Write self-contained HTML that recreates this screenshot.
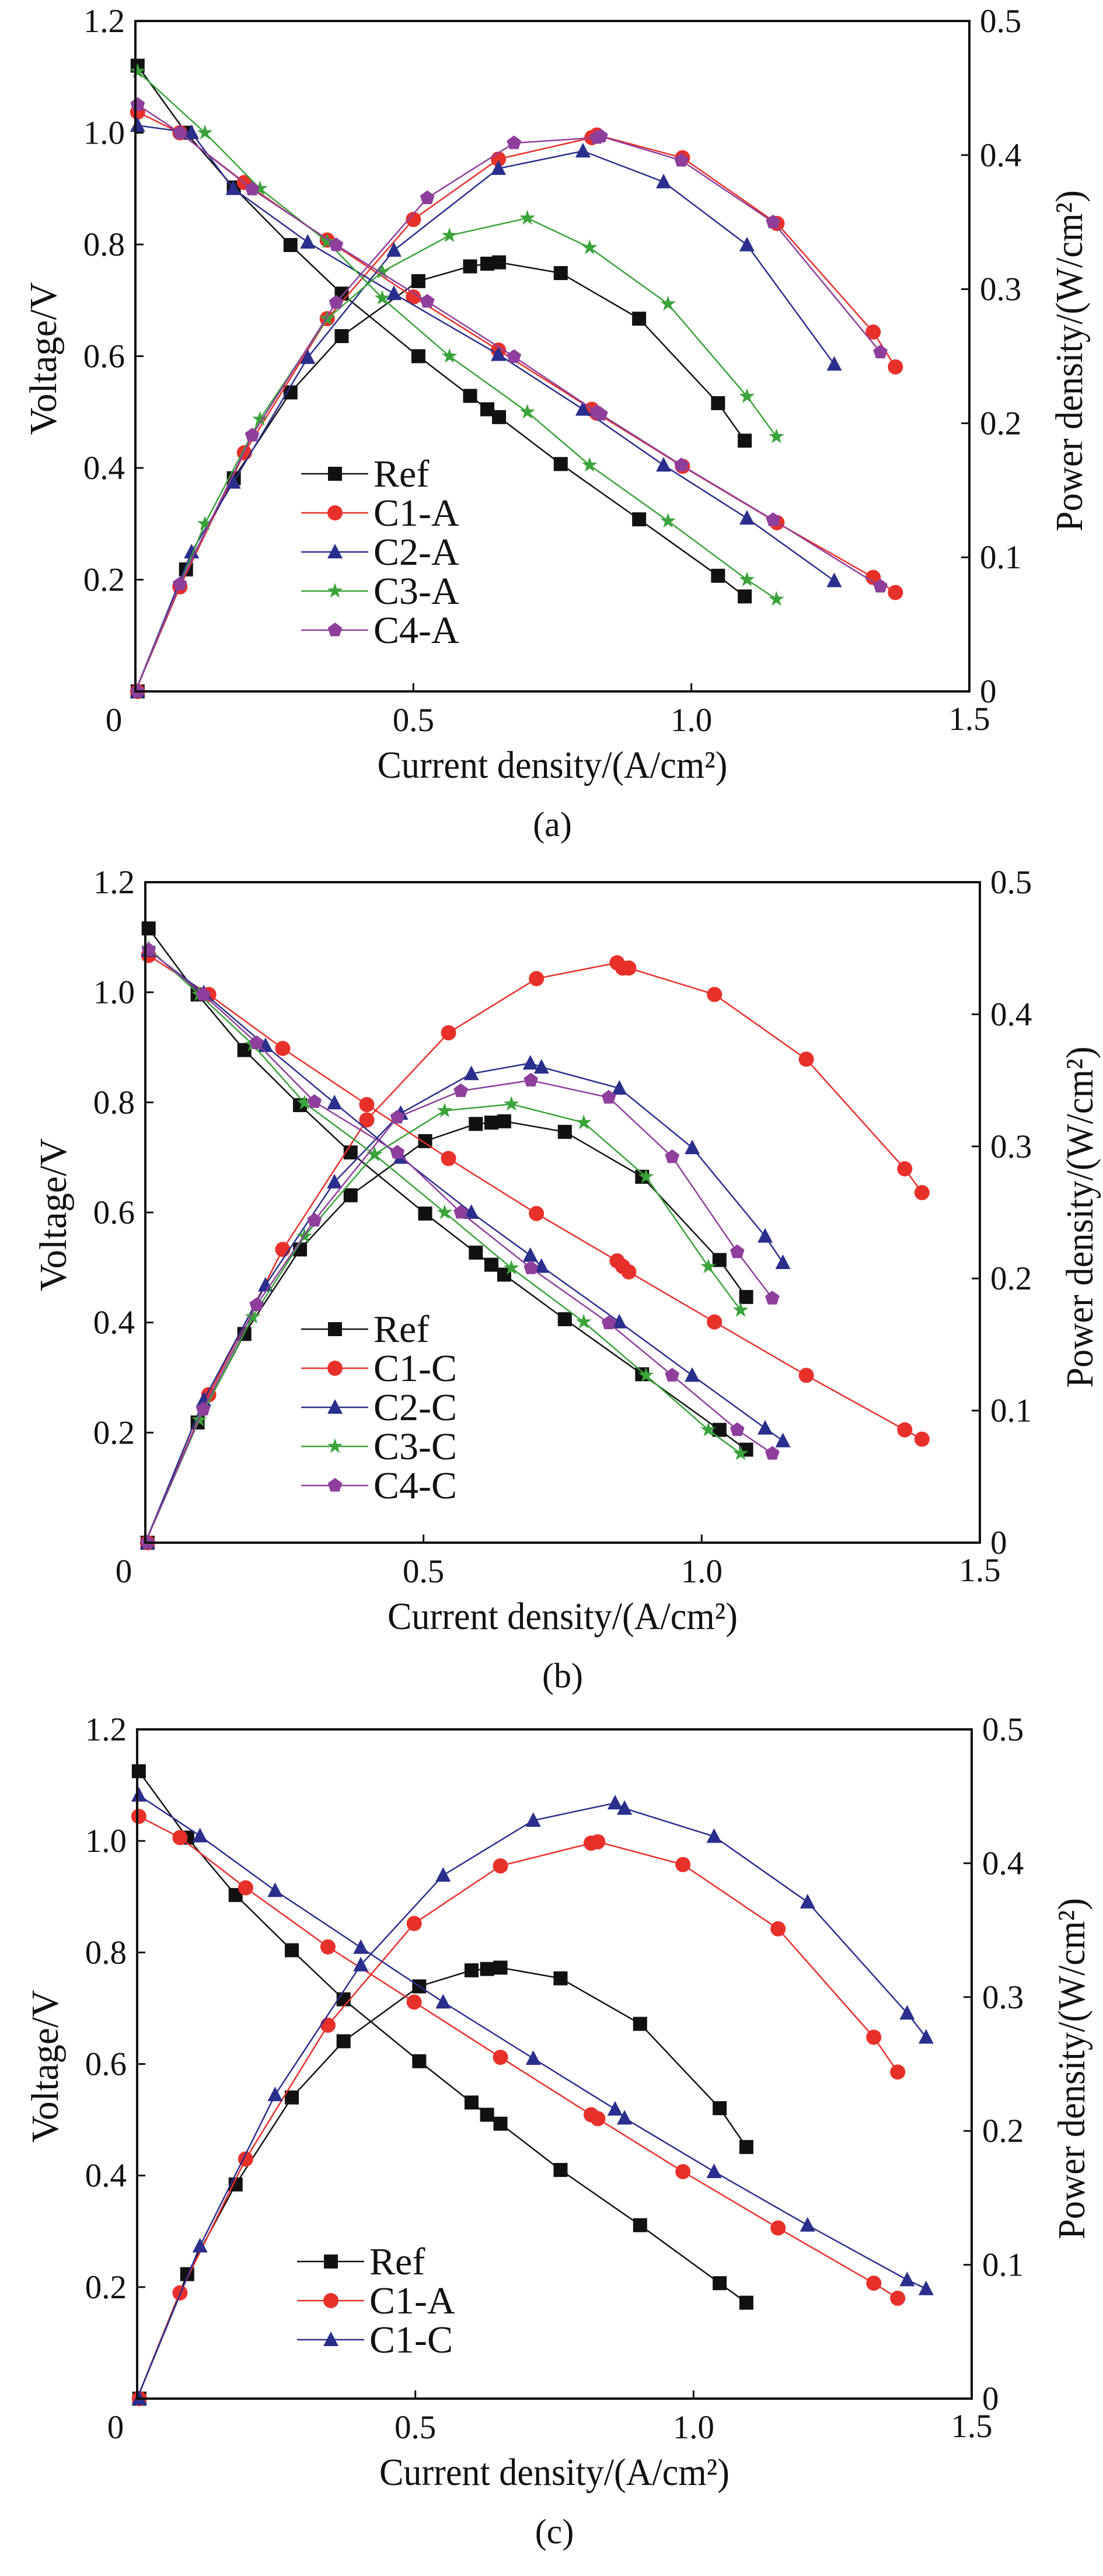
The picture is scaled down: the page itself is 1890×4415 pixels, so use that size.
<!DOCTYPE html>
<html><head><meta charset="utf-8"><style>
html,body{margin:0;padding:0;background:#fff;}
svg{display:block;font-family:"Liberation Serif",serif;}
</style></head><body>
<svg id="fig" width="1890" height="4415" viewBox="0 0 1890 4415" xmlns="http://www.w3.org/2000/svg"></svg>
<script>
// ---------- Chart (a) data ----------
const a_ref_I=[0.004,0.091,0.177,0.279,0.371,0.509,0.602,0.633,0.654,0.765,0.906,1.048,1.096];
const a_ref_V=[1.12,1.0,0.902,0.799,0.712,0.6,0.529,0.505,0.491,0.407,0.308,0.207,0.17];
const a_ref_P=[0,0.091,0.159,0.223,0.265,0.306,0.317,0.319,0.32,0.312,0.278,0.215,0.187];
const a_c1_I=[0.004,0.08,0.196,0.345,0.5,0.653,0.821,0.83,0.984,1.154,1.327,1.367];
const a_c1_V=[1.037,1.0,0.911,0.808,0.706,0.611,0.505,0.498,0.403,0.302,0.204,0.177];
const a_c1_P=[0,0.078,0.178,0.278,0.352,0.397,0.413,0.415,0.398,0.349,0.268,0.242];
const a_c2_I=[0.004,0.101,0.176,0.31,0.465,0.653,0.805,0.95,1.1,1.257];
const a_c2_V=[1.013,1.0,0.9,0.804,0.712,0.603,0.505,0.405,0.31,0.198];
const a_c2_P=[0,0.104,0.156,0.249,0.329,0.39,0.403,0.38,0.333,0.244];
const a_c3_I=[0.004,0.125,0.224,0.345,0.444,0.565,0.705,0.817,0.958,1.1,1.153];
const a_c3_V=[1.11,1.0,0.9,0.805,0.704,0.6,0.5,0.405,0.305,0.2,0.165];
const a_c3_P=[0,0.125,0.203,0.278,0.313,0.34,0.353,0.331,0.289,0.22,0.19];
const a_c4_I=[0.004,0.08,0.21,0.361,0.525,0.681,0.83,0.837,0.982,1.147,1.34];
const a_c4_V=[1.05,1.0,0.899,0.799,0.698,0.599,0.5,0.496,0.405,0.307,0.188];
const a_c4_P=[0,0.08,0.191,0.29,0.368,0.409,0.413,0.414,0.396,0.35,0.253];
// ---------- Chart (b) data ----------
const b_ref_I=[0.006,0.094,0.178,0.278,0.369,0.503,0.594,0.622,0.645,0.754,0.893,1.032,1.08];
const b_ref_V=[1.116,0.996,0.895,0.795,0.709,0.598,0.527,0.505,0.487,0.406,0.306,0.205,0.169];
const b_ref_P=[0,0.091,0.158,0.222,0.263,0.304,0.317,0.318,0.319,0.311,0.277,0.214,0.186];
const b_c1_I=[0.006,0.114,0.247,0.398,0.545,0.703,0.848,0.858,0.869,1.023,1.188,1.365,1.396];
const b_c1_V=[1.067,0.996,0.898,0.796,0.698,0.598,0.512,0.502,0.492,0.401,0.304,0.205,0.188];
const b_c1_P=[0,0.112,0.222,0.32,0.386,0.427,0.439,0.435,0.435,0.415,0.366,0.283,0.265];
const b_c2_I=[0.006,0.105,0.216,0.34,0.459,0.586,0.692,0.712,0.852,0.983,1.114,1.146];
const b_c2_V=[1.076,0.999,0.903,0.799,0.7,0.6,0.522,0.502,0.401,0.304,0.208,0.185];
const b_c2_P=[0,0.108,0.195,0.273,0.325,0.355,0.363,0.36,0.344,0.299,0.232,0.212];
const b_c3_I=[0.006,0.097,0.193,0.286,0.412,0.538,0.658,0.788,0.9,1.012,1.07];
const b_c3_V=[1.08,0.996,0.905,0.799,0.705,0.6,0.499,0.401,0.304,0.205,0.162];
const b_c3_P=[0,0.093,0.171,0.232,0.294,0.327,0.332,0.318,0.277,0.209,0.176];
const b_c4_I=[0.006,0.104,0.2,0.304,0.453,0.567,0.693,0.833,0.947,1.064,1.127];
const b_c4_V=[1.077,0.996,0.908,0.801,0.709,0.6,0.499,0.399,0.304,0.205,0.162];
const b_c4_P=[0,0.101,0.18,0.244,0.322,0.342,0.35,0.337,0.292,0.22,0.185];
// ---------- Chart (c) data ----------
const c_ref_I=[0.003,0.09,0.177,0.278,0.371,0.507,0.601,0.629,0.653,0.761,0.904,1.047,1.095];
const c_ref_V=[1.125,1.006,0.903,0.804,0.716,0.605,0.531,0.509,0.493,0.41,0.311,0.207,0.172];
const c_ref_P=[0,0.093,0.16,0.225,0.267,0.308,0.32,0.321,0.322,0.314,0.28,0.217,0.188];
const c_c1a_I=[0.003,0.077,0.195,0.343,0.498,0.653,0.816,0.828,0.981,1.152,1.324,1.367];
const c_c1a_V=[1.044,1.006,0.916,0.81,0.711,0.612,0.509,0.502,0.407,0.306,0.207,0.18];
const c_c1a_P=[0,0.079,0.179,0.279,0.355,0.398,0.415,0.416,0.399,0.351,0.27,0.244];
const c_c1c_I=[0.003,0.113,0.248,0.402,0.55,0.712,0.859,0.876,1.037,1.205,1.384,1.418];
const c_c1c_V=[1.082,1.009,0.911,0.809,0.711,0.61,0.519,0.503,0.407,0.311,0.213,0.197];
const c_c1c_P=[0,0.114,0.227,0.324,0.391,0.432,0.445,0.441,0.42,0.371,0.288,0.27];
// ---------- shared ----------
const xTicks=[0,0.5,1.0,1.5];
const xTickLabels=["0","0.5","1.0","1.5"];
const vTicks=[0.2,0.4,0.6,0.8,1.0,1.2];
const vTickLabels=["0.2","0.4","0.6","0.8","1.0","1.2"];
const pTicks=[0,0.1,0.2,0.3,0.4,0.5];
const pTickLabels=["0","0.1","0.2","0.3","0.4","0.5"];

const NS="http://www.w3.org/2000/svg";
const svg=document.getElementById('fig');
function mk(tag,attrs,parent){const e=document.createElementNS(NS,tag);for(const k in attrs)e.setAttribute(k,attrs[k]);(parent||svg).appendChild(e);return e;}
const COL={ref:"#111111",c1:"#e8302a",c2:"#2a2e8c",c3:"#3aa33a",c4:"#8e3f9c"};

function marker(g,shape,x,y,color){
  let e; const s=12;
  if(shape==="square"){e=mk('rect',{x:x-s,y:y-s,width:2*s,height:2*s,fill:color},g);}
  else if(shape==="circle"){e=mk('circle',{cx:x,cy:y,r:s+1,fill:color},g);}
  else if(shape==="triangle"){e=mk('polygon',{points:`${x},${y-s-2} ${x-s-1},${y+s-1} ${x+s+1},${y+s-1}`,fill:color},g);}
  else if(shape==="star"){let p=[];for(let i=0;i<10;i++){const r=i%2?5.5:14;const a=-Math.PI/2+i*Math.PI/5;p.push((x+r*Math.cos(a)).toFixed(1)+","+(y+r*Math.sin(a)).toFixed(1));}e=mk('polygon',{points:p.join(' '),fill:color},g);}
  else {let p=[];for(let i=0;i<5;i++){const a=-Math.PI/2+i*2*Math.PI/5;p.push((x+13*Math.cos(a)).toFixed(1)+","+(y+13*Math.sin(a)).toFixed(1));}e=mk('polygon',{points:p.join(' '),fill:color},g);}
  return e;
}

function chart(cfg){
  const {L,R,T,B,series,label,id}=cfg;
  const g=mk('g',{});
  
  
  const X=v=>L+v/1.5*(R-L), YV=v=>B-v/1.2*(B-T), YP=v=>B-v/0.5*(B-T);
  series.forEach(s=>{
    const sg=mk('g',{},g);
    
    
    const vl=mk('polyline',{points:s.I.map((c,i)=>X(c)+","+YV(s.V[i])).join(' '),fill:'none',stroke:s.color,'stroke-width':2.5},sg);
    
    
    const pl=mk('polyline',{points:s.I.map((c,i)=>X(i===0?0:c)+","+YP(s.P[i])).join(' '),fill:'none',stroke:s.color,'stroke-width':2.5},sg);
    
    
    s.I.forEach((c,i)=>{
      const m1=marker(sg,s.shape,X(c),YV(s.V[i]),s.color);
      
      
      const m2=marker(sg,s.shape,X(i===0?0.004:c),YP(s.P[i]),s.color);
      
      
    });
  });
  const fr=mk('rect',{x:L,y:T,width:R-L,height:B-T,fill:'none',stroke:'#111','stroke-width':4},g);
  
  
  const fs=57;
  xTicks.forEach((v,i)=>{
    if(v>0&&v<1.5) mk('line',{x1:X(v),x2:X(v),y1:B,y2:B-14,stroke:'#111','stroke-width':3},g);
    const t=mk('text',{x:X(v)+(i===0?-37:0),y:B+(i===3?66:68),'font-size':fs,'text-anchor':'middle',fill:'#111'},g);
    t.textContent=xTickLabels[i];
    
    
  });
  vTicks.forEach((v,i)=>{
    mk('line',{x1:L,x2:L+14,y1:YV(v),y2:YV(v),stroke:'#111','stroke-width':3},g);
    const t=mk('text',{x:L-18,y:YV(v)+19,'font-size':fs,'text-anchor':'end',fill:'#111'},g);
    t.textContent=vTickLabels[i];
    
    
  });
  pTicks.forEach((v,i)=>{
    mk('line',{x1:R,x2:R-14,y1:YP(v),y2:YP(v),stroke:'#111','stroke-width':3},g);
    const t=mk('text',{x:R+18,y:YP(v)+19,'font-size':fs,'text-anchor':'start',fill:'#111'},g);
    t.textContent=pTickLabels[i];
    
    
  });
  const xt=mk('text',{x:(L+R)/2,y:B+148,'font-size':66,'text-anchor':'middle',fill:'#111',textLength:600,lengthAdjust:'spacingAndGlyphs'},g);
  xt.textContent="Current density/(A/cm²)";
  
  
  const yl=mk('text',{x:0,y:0,'font-size':66,'text-anchor':'middle',fill:'#111',textLength:262,lengthAdjust:'spacingAndGlyphs',transform:`translate(${L-136},${(T+B)/2+4}) rotate(-90)`},g);
  yl.textContent="Voltage/V";
  
  
  const yr=mk('text',{x:0,y:0,'font-size':66,'text-anchor':'middle',fill:'#111',textLength:585,lengthAdjust:'spacingAndGlyphs',transform:`translate(${R+193},${(T+B)/2+8}) rotate(-90)`},g);
  yr.textContent="Power density/(W/cm²)";
  
  
  const cap=mk('text',{x:(L+R)/2,y:B+248,'font-size':60,'text-anchor':'middle',fill:'#111'},g);
  cap.textContent=label;
  
  
  const lg=mk('g',{},g);
  
  
  series.forEach((s,i)=>{
    const y=cfg.legY+i*cfg.legDy, x0=cfg.legX;
    const e=mk('g',{},lg);
    
    
    mk('line',{x1:x0,x2:x0+115,y1:y,y2:y,stroke:s.color,'stroke-width':2.5},e);
    marker(e,s.shape,x0+58,y,s.color);
    const t=mk('text',{x:x0+124,y:y+22,'font-size':66,fill:'#111'},e);
    t.textContent=s.name;
  });
}

chart({id:'a',label:'(a)',L:232,R:1661,T:36,B:1185,legX:516,legY:812,legDy:67,series:[
 {name:'Ref',shape:'square',color:COL.ref,I:a_ref_I,V:a_ref_V,P:a_ref_P},
 {name:'C1-A',shape:'circle',color:COL.c1,I:a_c1_I,V:a_c1_V,P:a_c1_P},
 {name:'C2-A',shape:'triangle',color:COL.c2,I:a_c2_I,V:a_c2_V,P:a_c2_P},
 {name:'C3-A',shape:'star',color:COL.c3,I:a_c3_I,V:a_c3_V,P:a_c3_P},
 {name:'C4-A',shape:'pentagon',color:COL.c4,I:a_c4_I,V:a_c4_V,P:a_c4_P}]});
chart({id:'b',label:'(b)',L:249,R:1679,T:1512,B:2644,legX:516,legY:2278,legDy:67,series:[
 {name:'Ref',shape:'square',color:COL.ref,I:b_ref_I,V:b_ref_V,P:b_ref_P},
 {name:'C1-C',shape:'circle',color:COL.c1,I:b_c1_I,V:b_c1_V,P:b_c1_P},
 {name:'C2-C',shape:'triangle',color:COL.c2,I:b_c2_I,V:b_c2_V,P:b_c2_P},
 {name:'C3-C',shape:'star',color:COL.c3,I:b_c3_I,V:b_c3_V,P:b_c3_P},
 {name:'C4-C',shape:'pentagon',color:COL.c4,I:b_c4_I,V:b_c4_V,P:b_c4_P}]});
chart({id:'c',label:'(c)',L:235,R:1665,T:2964,B:4111,legX:509,legY:3876,legDy:67,series:[
 {name:'Ref',shape:'square',color:COL.ref,I:c_ref_I,V:c_ref_V,P:c_ref_P},
 {name:'C1-A',shape:'circle',color:COL.c1,I:c_c1a_I,V:c_c1a_V,P:c_c1a_P},
 {name:'C1-C',shape:'triangle',color:COL.c2,I:c_c1c_I,V:c_c1c_V,P:c_c1c_P}]});
</script>
</body></html>
